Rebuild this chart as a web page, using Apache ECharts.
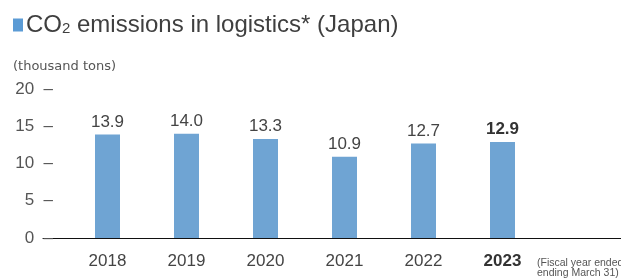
<!DOCTYPE html>
<html><head><meta charset="utf-8">
<script src="https://cdn.jsdelivr.net/npm/echarts@6/dist/echarts.min.js"></script>
<style>html,body{margin:0;padding:0;background:#fff}#c{width:621px;height:280px}</style>
</head><body><div id="c"></div>
<script>
var categories = ['2018', '2019', '2020', '2021', '2022', '2023'];
var values = [13.9, 14.0, 13.3, 10.9, 12.7, 12.9];
var yTicks = [0, 5, 10, 15, 20];

var FONT = '"Liberation Sans", Arial, sans-serif';
var cats = categories.concat(['']);
var chart = echarts.init(document.getElementById('c'), null, {renderer: 'canvas'});
chart.setOption({
  animation: false,
  backgroundColor: '#fff',
  title: [{
    left: 13, top: 13, padding: 0,
    text: '{sq| }{g| }{t|CO}{s|2}{t| emissions in logistics* (Japan)}',
    textStyle: {
      fontWeight: 'normal',
      rich: {
        sq: {width: 10, height: 13, backgroundColor: '#5b9bd5', fontSize: 10},
        g: {width: 3, fontSize: 10},
        t: {fontSize: 24, color: '#3f3f3f', fontFamily: FONT, fontWeight: 'normal'},
        s: {fontSize: 15, color: '#3f3f3f', fontFamily: FONT, fontWeight: 'normal', padding: [8, 0, 0, 0]}
      }
    }
  }, {
    left: 13, top: 60, padding: 0,
    text: '(thousand tons)',
    textStyle: {fontSize: 13, color: '#555', fontWeight: 'normal', fontFamily: '"DejaVu Sans", sans-serif'}
  }, {
    left: 537, top: 258, padding: 0,
    text: '(Fiscal year ended\nending March 31)',
    textStyle: {fontSize: 10.5, lineHeight: 10, color: '#555', fontWeight: 'normal', fontFamily: FONT}
  }],
  grid: [
    {left: 68, right: 0, top: 89, bottom: 42},
    {left: 43, right: 0, top: 89, bottom: 42}
  ],
  xAxis: [{
    type: 'category', gridIndex: 0, data: cats,
    axisLine: {show: false}, axisTick: {show: false},
    axisLabel: {
      interval: 0, margin: 15, fontSize: 17, color: '#444', fontFamily: FONT,
      formatter: function (v, i) { return i === categories.length - 1 ? '{b|' + v + '}' : v; },
      rich: {b: {fontSize: 17, fontWeight: 'bold', color: '#333', fontFamily: FONT}}
    }
  }, {
    type: 'value', gridIndex: 1, min: 0, max: 1,
    axisLine: {show: true, lineStyle: {color: '#111', width: 1}},
    axisTick: {show: false}, axisLabel: {show: false}, splitLine: {show: false}
  }],
  yAxis: [{
    type: 'value', gridIndex: 0, min: yTicks[0], max: yTicks[yTicks.length - 1], interval: 5,
    axisLine: {show: false}, axisTick: {show: false}, splitLine: {show: false},
    axisLabel: {margin: 15, fontSize: 17, color: '#555', fontFamily: FONT,
      formatter: function (v) { return v + '  –'; }}
  }, {
    type: 'value', gridIndex: 1, show: false, min: 0, max: 20
  }],
  series: [{
    type: 'bar', xAxisIndex: 0, yAxisIndex: 0, barWidth: 25,
    itemStyle: {color: '#6fa4d3'},
    label: {
      show: true, position: 'top', distance: 4, fontSize: 17, color: '#444', fontFamily: FONT,
      formatter: function (p) { return p.value.toFixed(1); }
    },
    data: values.map(function (v, i) {
      var d = {value: v};
      if (i === values.length - 1) d.label = {fontWeight: 'bold', color: '#333'};
      return d;
    })
  }]
});
</script></body></html>
